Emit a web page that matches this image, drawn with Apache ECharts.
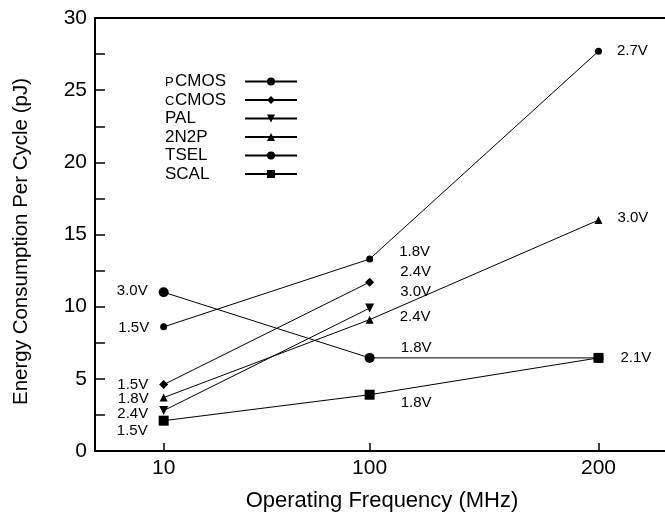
<!DOCTYPE html>
<html>
<head>
    <meta charset="utf-8">
    <script src="https://cdn.jsdelivr.net/npm/echarts@6/dist/echarts.min.js"></script>
    <style>
        html, body { margin: 0; padding: 0; background: #fff; }
        #chart { width: 665px; height: 516px; }
    </style>
</head>
<body>
    <div id="chart"></div>
    <script>
        // operating frequency (MHz)
        var freqs = [10, 100, 200];
        var yTicks = [0, 5, 10, 15, 20, 25, 30];

        // energy per cycle (pJ)
        var pcmos = [8.6, 13.3, 27.7];
        var ccmos = [4.6, 11.7];
        var pal = [2.8, 9.9];
        var n2p = [3.7, 9.1, 16.0];
        var tsel = [11.0, 6.45, 6.45];
        var scal = [2.1, 3.9, 6.45];

        // supply voltage at each point
        var pcmosV = ['1.5V', '1.8V', '2.7V'];
        var ccmosV = ['1.5V', '2.4V'];
        var palV = ['2.4V', '3.0V'];
        var n2pV = ['1.8V', '2.4V', '3.0V'];
        var tselV = ['3.0V', '1.8V', ''];
        var scalV = ['1.5V', '1.8V', '2.1V'];

        var font = 'Liberation Sans, Arial, Helvetica, sans-serif';

        // label placement per point: [position, distance, dy]
        var place = {
            pCMOS: [['left', 11, 1], ['right', 26, -7], ['right', 15, 0]],
            cCMOS: [['left', 11, 0], ['right', 26, -10]],
            PAL: [['left', 11, 3], ['right', 26, -16]],
            '2N2P': [['left', 11, 1], ['right', 26, -3], ['right', 15, -2]],
            TSEL: [['left', 11, -1], ['right', 26, -10], ['right', 15, 0]],
            SCAL: [['left', 11, 10], ['right', 26, 8], ['right', 17, 0]]
        };

        function makeSeries(name, vals, volts, symbol, size, rotate) {
            var data = vals.map(function (v, i) {
                var p = place[name][i];
                return {
                    value: [freqs[i], v],
                    label: {
                        show: volts[i] !== '',
                        formatter: volts[i],
                        position: p[0],
                        distance: p[1],
                        offset: [0, p[2]]
                    }
                };
            });
            return {
                type: 'line',
                name: name,
                data: data,
                symbol: symbol,
                symbolSize: size,
                symbolRotate: rotate || 0,
                showAllSymbol: true,
                lineStyle: { color: '#000', width: 1 },
                itemStyle: { color: '#000' },
                label: { color: '#000', fontSize: 15, fontFamily: font },
                emphasis: { disabled: true },
                animation: false
            };
        }

        var chart = echarts.init(document.getElementById('chart'));

        var option = {
            backgroundColor: '#fff',
            animation: false,
            // right border pushed off the canvas, like the cropped original
            grid: {
                left: 95, top: 18, right: -4, bottom: 65,
                outerBoundsMode: 'none',
                show: true, borderColor: '#000', borderWidth: 2
            },
            legend: {
                orient: 'vertical',
                left: 160,
                top: 68,
                align: 'right',
                itemWidth: 52,
                itemHeight: 10,
                itemGap: 1.5,
                data: ['pCMOS', 'cCMOS', 'PAL', '2N2P', 'TSEL', 'SCAL'],
                formatter: function (name) {
                    if (name === 'pCMOS') return '{sc|P}{m|CMOS}';
                    if (name === 'cCMOS') return '{sc|C}{m|CMOS}';
                    return '{n|' + name + '}';
                },
                textStyle: {
                    color: '#000',
                    fontSize: 17,
                    fontFamily: font,
                    lineHeight: 15,
                    rich: {
                        sc: { fontSize: 13, fontFamily: font, color: '#000', lineHeight: 15, width: 10, align: 'left', verticalAlign: 'bottom' },
                        m: { fontSize: 17, fontFamily: font, color: '#000', lineHeight: 15, width: 65, align: 'left' },
                        n: { fontSize: 17, fontFamily: font, color: '#000', lineHeight: 15, width: 75, align: 'left' }
                    }
                }
            },
            xAxis: {
                type: 'value',
                min: -20,
                max: 230.8,
                name: 'Operating Frequency (MHz)',
                nameLocation: 'middle',
                nameGap: 39,
                nameTextStyle: { color: '#000', fontSize: 22, fontFamily: font },
                splitLine: { show: false },
                axisLine: { show: true, onZero: false, lineStyle: { color: '#000', width: 2 } },
                axisTick: { show: true, inside: true, length: 8, customValues: freqs, lineStyle: { color: '#000', width: 1.5 } },
                axisLabel: { customValues: freqs, color: '#000', fontSize: 21, fontFamily: font, margin: 7 }
            },
            yAxis: {
                type: 'value',
                min: 0,
                max: 30,
                interval: 5,
                name: 'Energy Consumption Per Cycle (pJ)',
                nameLocation: 'middle',
                nameGap: 63,
                nameTextStyle: { color: '#000', fontSize: 20.5, fontFamily: font, padding: [0, 14, 0, 0] },
                splitLine: { show: false },
                axisLine: { show: true, onZero: false, lineStyle: { color: '#000', width: 2 } },
                axisTick: { show: true, inside: true, length: 10, lineStyle: { color: '#000', width: 1.5 } },
                minorTick: { show: true, splitNumber: 2, length: 10, lineStyle: { color: '#000', width: 1.5 } },
                axisLabel: {
                    color: '#000', fontSize: 21, fontFamily: font, margin: 8,
                    customValues: yTicks
                }
            },
            series: [
                makeSeries('pCMOS', pcmos, pcmosV, 'circle', 7),
                makeSeries('cCMOS', ccmos, ccmosV, 'diamond', 9),
                makeSeries('PAL', pal, palV, 'triangle', 9, 180),
                makeSeries('2N2P', n2p, n2pV, 'triangle', 8),
                makeSeries('TSEL', tsel, tselV, 'circle', 10),
                makeSeries('SCAL', scal, scalV, 'rect', 10)
            ]
        };

        chart.setOption(option);
    </script>
</body>
</html>
